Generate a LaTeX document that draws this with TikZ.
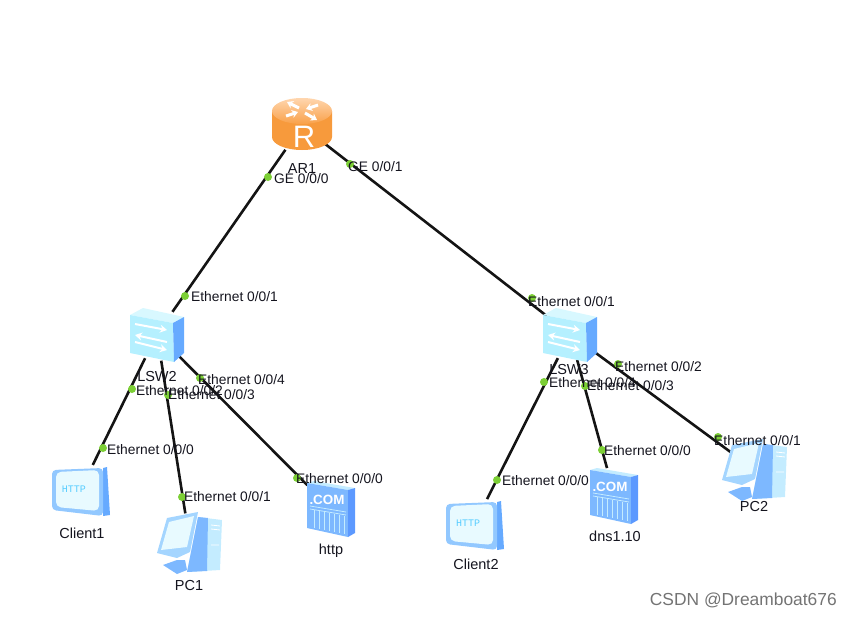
\documentclass[tikz,border=0pt]{standalone}
\usepackage{fontspec}
\setmainfont{Liberation Sans}
\setmonofont{Liberation Mono}
\usepackage{xcolor}
\usetikzlibrary{positioning,arrows.meta}
\definecolor{swfront}{HTML}{B5F0FF}
\definecolor{swtop}{HTML}{D8F8FF}
\definecolor{swside}{HTML}{66AAFF}
\definecolor{pcblue}{HTML}{7DB8FF}
\definecolor{pclight}{HTML}{C4ECFF}
\definecolor{screenc}{HTML}{E8FAFF}
\definecolor{labelc}{HTML}{14141E}
\definecolor{dotc}{HTML}{7CCF35}
\definecolor{rtedge}{HTML}{F79A3C}
\definecolor{rtmid}{HTML}{FFBE80}
\definecolor{rttop}{HTML}{FFC48C}
\tikzset{
  device/.style={circle,minimum size=#1,inner sep=0pt,outer sep=0pt},
  link/.style={line width=2.6pt,black!92},
  portdot/.style={circle,fill=dotc,minimum size=8pt,inner sep=0pt},
  portlabel/.style={anchor=west,inner sep=0pt,text=labelc,font=\fontsize{13.8}{16}\selectfont},
  devlabel/.style={inner sep=0pt,text=labelc,font=\fontsize{14.5}{16}\selectfont},
  pics/routericon/.style={code={
    \path[left color=rtedge,middle color=rtmid,right color=rtedge] (-30,-15) -- (-30,11) arc[start angle=180,end angle=0,x radius=30,y radius=13] -- (30,-15) -- cycle;
    \path[top color=rttop!70!white,bottom color=rtedge!80!rtmid] (0,-15) ellipse[x radius=30,y radius=13];
    \draw[white,line width=3pt,-{Stealth[length=6pt,width=8pt]}] (-3,-18) -- (-15,-24);
    \draw[white,line width=3pt,-{Stealth[length=6pt,width=8pt]}] (-16,-10) -- (-4,-14);
    \draw[white,line width=3pt,-{Stealth[length=6pt,width=8pt]}] (3,-13) -- (15,-6);
    \draw[white,line width=3pt,-{Stealth[length=6pt,width=8pt]}] (16,-21) -- (4,-17);
    \node[white,inner sep=0pt,font=\fontsize{31}{31}\selectfont] (rmark) at (2,11) {R};
  }},
  pics/switchicon/.style={code={
    \fill[swtop] (-27,-19) -- (-14,-26) -- (27,-17) -- (16,-11) -- cycle;
    \fill[swfront] (-27,-19) -- (16,-11) -- (17,28) -- (-27,19) -- cycle;
    \fill[swside] (16,-11) -- (27,-17) -- (27,19) -- (17,28) -- cycle;
    \draw[white,line width=2pt,-{Stealth[length=7pt,width=8pt]}] (-22,-10) -- (10,-4);
    \draw[white,line width=2pt,-{Stealth[length=7pt,width=8pt]}] (10,8) -- (-22,1);
    \draw[white,line width=2pt,-{Stealth[length=7pt,width=8pt]}] (-22,8) -- (10,16);
  }},
  pics/pcicon/.style={code={
    \fill[pclight] (8,-26) -- (32,-23) -- (30,27) -- (-3,29) -- cycle;
    \fill[pcblue] (8,-26) -- (18,-25) -- (17,28) -- (-3,29) -- cycle;
    \fill[pcblue] (-27,22) -- (-13,17) -- (-5,17) -- (-3,27) -- (-13,31) -- cycle;
    \fill[pcblue!45!pclight] (-33,10) -- (-23,-25) -- (8,-31) -- (0,9) -- (-13,15) -- cycle;
    \fill[screenc] (-29,7) -- (-21,-21) -- (4,-27) -- (-3,4) -- cycle;
    \draw[white,line width=0.8pt] (21,-18) -- (30,-17) (21,-14) -- (30,-13) (21,2) -- (29,2);
  }},
  pics/httpicon/.style={code={
    \fill[swside] (23,-23) -- (27,-24) -- (30,24) -- (23,25) -- cycle;
    \fill[pcblue!70!pclight,rounded corners=4pt] (-28,-21) -- (23,-23) -- (23,25) -- (-28,19) -- cycle;
    \fill[screenc,rounded corners=5pt] (-24,-19) -- (19,-21) -- (19,20) -- (-24,16) -- cycle;
    \node[text=pcblue!70!cyan,inner sep=0pt,font=\ttfamily\fontsize{10}{10}\selectfont] (httpmark) at (-6,-2) {HTTP};
  }},
  pics/comicon/.style={code={
    \fill[pclight] (-25,-27) -- (-18,-29) -- (23,-22) -- (16,-20) -- cycle;
    \fill[pcblue] (-25,-27) -- (16,-20) -- (16,27) -- (-25,18) -- cycle;
    \fill[swside!90!blue] (16,-20) -- (23,-22) -- (23,23) -- (16,27) -- cycle;
    \draw[pclight,line width=0.8pt] (-22,-4) -- (14,2) (-22,-1) -- (14,5);
    \draw[pclight,line width=0.8pt] (-18,0) -- (-18,18) (-13,1) -- (-13,19) (-8,2) -- (-8,20) (-3,3) -- (-3,21) (2,4) -- (2,22) (7,5) -- (7,23) (12,6) -- (12,24);
    \node[white,inner sep=0pt,font=\bfseries\fontsize{13.4}{14}\selectfont] (commark) at (-5,-10) {.COM};
  }},
}
\begin{document}
\begin{tikzpicture}[x=1pt,y=-1pt]
  \useasboundingbox (0,0) rectangle (851,616);
  % devices
  \node[device=58] (ar1) at (302,126) {};
  \node[device=54] (lsw2) at (157,334) {};
  \node[device=54] (lsw3) at (570,334) {};
  \node[device=58] (client1) at (80,491) {};
  \node[device=60] (pc1) at (190,543) {};
  \node[device=70] (http) at (332,510) {};
  \node[device=58] (client2) at (474,525) {};
  \node[device=60] (dns) at (615,497) {};
  \node[device=60] (pc2) at (755,470) {};
  % links
  \draw[link] (ar1) -- (lsw2);
  \draw[link] (ar1) -- (lsw3);
  \draw[link] (lsw2) -- (client1);
  \draw[link] (lsw2) -- (pc1);
  \draw[link] (lsw2) -- (http);
  \draw[link] (lsw3) -- (client2);
  \draw[link] (lsw3) -- (dns);
  \draw[link] (lsw3) -- (pc2);
  % icons
  \pic at (ar1) {routericon};
  \pic at (lsw2) {switchicon};
  \pic at (lsw3) {switchicon};
  \pic at (client1) {httpicon};
  \pic at (pc1) {pcicon};
  \pic at (http) {comicon};
  \pic at (client2) {httpicon};
  \pic at (dns) {comicon};
  \pic at (pc2) {pcicon};
  % device names
  \node[devlabel] (ar1name) at (302,169) {AR1};
  \node[devlabel] (lsw2name) at (157,377) {LSW2};
  \node[devlabel] (lsw3name) at (569,370) {LSW3};
  \node[devlabel] (client1name) at (82,533) {Client1};
  \node[devlabel] (pc1name) at (189,585) {PC1};
  \node[devlabel] (httpname) at (331,551) {http};
  \node[devlabel] (client2name) at (476,564) {Client2};
  \node[devlabel] (dnsname) at (615,536) {dns1.10};
  \node[devlabel] (pc2name) at (754,507) {PC2};
  % port dots
  \node[portdot] (ar1g0) at (268,177) {};
  \node[portdot] (ar1g1) at (350,164) {};
  \node[portdot] (lsw2e1) at (185,296) {};
  \node[portdot] (lsw2e4) at (200,378) {};
  \node[portdot] (lsw2e2) at (132,389) {};
  \node[portdot] (lsw2e3) at (168,395) {};
  \node[portdot] (client1e0) at (103,448) {};
  \node[portdot] (pc1e1) at (182,497) {};
  \node[portdot] (httpe0) at (297,478) {};
  \node[portdot] (lsw3e1) at (532,298) {};
  \node[portdot] (lsw3e2) at (618,364) {};
  \node[portdot] (lsw3e4) at (544,382) {};
  \node[portdot] (lsw3e3) at (585,386) {};
  \node[portdot] (client2e0) at (497,480) {};
  \node[portdot] (dnse0) at (602,450) {};
  \node[portdot] (pc2e1) at (718,437) {};
  % port names
  \node[portlabel] (ar1g0name) at (274,179) {GE 0/0/0};
  \node[portlabel] (ar1g1name) at (348,167) {GE 0/0/1};
  \node[portlabel] (lsw2e1name) at (191,297) {Ethernet 0/0/1};
  \node[portlabel] (lsw2e4name) at (198,380) {Ethernet 0/0/4};
  \node[portlabel] (lsw2e2name) at (136,391) {Ethernet 0/0/2};
  \node[portlabel] (lsw2e3name) at (168,395) {Ethernet 0/0/3};
  \node[portlabel] (client1e0name) at (107,450) {Ethernet 0/0/0};
  \node[portlabel] (pc1e1name) at (184,497) {Ethernet 0/0/1};
  \node[portlabel] (httpe0name) at (296,479) {Ethernet 0/0/0};
  \node[portlabel] (lsw3e1name) at (528,302) {Ethernet 0/0/1};
  \node[portlabel] (lsw3e2name) at (615,367) {Ethernet 0/0/2};
  \node[portlabel] (lsw3e4name) at (549,383) {Ethernet 0/0/4};
  \node[portlabel] (lsw3e3name) at (587,386) {Ethernet 0/0/3};
  \node[portlabel] (client2e0name) at (502,481) {Ethernet 0/0/0};
  \node[portlabel] (dnse0name) at (604,451) {Ethernet 0/0/0};
  \node[portlabel] (pc2e1name) at (714,441) {Ethernet 0/0/1};
  % watermark
  \node[anchor=east,inner sep=0pt,text=black!55,font=\fontsize{17.4}{18}\selectfont] (mark) at (837,600) {CSDN @Dreamboat676};
\end{tikzpicture}
\end{document}
